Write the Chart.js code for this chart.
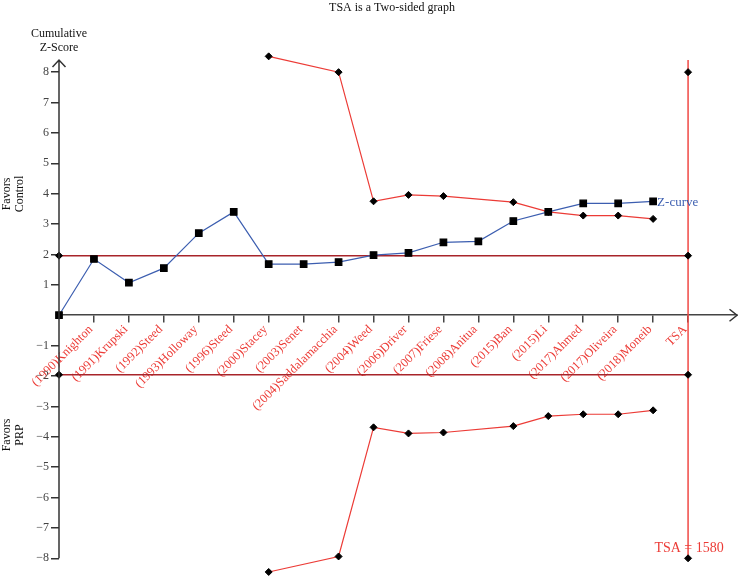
<!DOCTYPE html>
<html>
<head>
<meta charset="utf-8">
<title>TSA is a Two-sided graph</title>
<script src="https://cdn.jsdelivr.net/npm/chart.js@4.4.1/dist/chart.umd.min.js"></script>
<style>
    html, body { margin: 0; padding: 0; background: #fff; }
</style>
</head>
<body>
<canvas id="tsaChart" width="740" height="576"></canvas>
<script>
// studies in order of publication, TSA is the last slot on the x axis
const studyLabels = [
    '(1990)Knighton', '(1991)Krupski', '(1992)Steed', '(1993)Holloway', '(1996)Steed',
    '(2000)Stacey', '(2003)Senet', '(2004)Saddalamacchia', '(2004)Weed', '(2006)Driver',
    '(2007)Friese', '(2008)Anitua', '(2015)Ban', '(2015)Li', '(2017)Ahmed',
    '(2017)Oliveira', '(2018)Moneib', 'TSA'
];

// cumulative z-score, index 0 is the origin
const zCurve = [0, 1.85, 1.07, 1.55, 2.70, 3.40, 1.68, 1.68, 1.75, 1.98, 2.05, 2.40, 2.43, 3.10, 3.40, 3.68, 3.68, 3.75];

// monitoring boundaries (only where computed)
const boundaryIdx = [6, 8, 9, 10, 11, 13, 14, 15, 16, 17];
const upperBoundary = [8.52, 8.0, 3.75, 3.96, 3.92, 3.72, 3.40, 3.28, 3.28, 3.17];
const lowerBoundary = [-8.45, -7.94, -3.69, -3.89, -3.86, -3.65, -3.32, -3.26, -3.26, -3.13];

const conventionalZ = 1.96;
const tsaIdx = 18;
const tsaSize = 1580;
const tsaLine = [8.4, 8, -8];
const yTickValues = [-8, -7, -6, -5, -4, -3, -2, -1, 1, 2, 3, 4, 5, 6, 7, 8];

const serif = "'Liberation Serif', 'Times New Roman', serif";
const red = '#ec3b36';
const darkRed = '#a8242a';
const blue = '#3c5eb0';

const annotations = {
    id: 'annotations',
    afterDraw(chart) {
        const c = chart.ctx;
        const area = chart.chartArea;
        const xs = chart.scales.x;
        const ys = chart.scales.y;
        const x0 = xs.getPixelForValue(0);
        const y0 = ys.getPixelForValue(0);

        c.save();
        // y axis line stops at -8, arrow heads on both axes
        c.strokeStyle = '#333';
        c.lineWidth = 1.5;
        c.beginPath();
        c.moveTo(x0, ys.getPixelForValue(-8));
        c.lineTo(x0, area.top);
        c.moveTo(x0 - 6.5, area.top + 7);
        c.lineTo(x0, area.top);
        c.lineTo(x0 + 6.5, area.top + 7);
        c.moveTo(area.right - 7.5, y0 - 6);
        c.lineTo(area.right, y0);
        c.lineTo(area.right - 7.5, y0 + 6);
        c.stroke();

        c.fillStyle = '#111';
        c.textAlign = 'center';
        c.textBaseline = 'middle';
        c.font = '12px ' + serif;
        c.fillText('TSA is a Two-sided graph', 392, 8);
        c.fillText('Cumulative', x0, 34);
        c.fillText('Z-Score', x0, 48);

        // side captions
        [['Favors', 'Control', 194], ['Favors', 'PRP', 435]].forEach(([a, b, cy]) => {
            c.save();
            c.translate(13, cy);
            c.rotate(-Math.PI / 2);
            c.fillText(a, 0, -6);
            c.fillText(b, 0, 7);
            c.restore();
        });

        c.font = '13px ' + serif;
        c.textAlign = 'left';
        c.fillStyle = blue;
        const last = zCurve.length - 1;
        c.fillText('Z-curve', xs.getPixelForValue(last) + 4, ys.getPixelForValue(zCurve[last]) + 1);

        c.font = '14px ' + serif;
        c.textAlign = 'center';
        c.fillStyle = red;
        c.fillText('TSA = ' + tsaSize, xs.getPixelForValue(tsaIdx) + 1, ys.getPixelForValue(-8) - 10);
        c.restore();
    }
};

const diamond = { pointStyle: 'rectRot', pointRadius: 3.5, pointBackgroundColor: '#000', pointBorderColor: '#000', pointBorderWidth: 1 };

// keep label overflow from shrinking the plot area
function noPadding(s) {
    s.paddingTop = 0;
    s.paddingBottom = 0;
    s.paddingLeft = 0;
    s.paddingRight = 0;
}

new Chart(document.getElementById('tsaChart'), {
    type: 'scatter',
    data: {
        datasets: [
            {
                label: 'Z-curve',
                data: zCurve.map((v, i) => ({ x: i, y: v })),
                showLine: true,
                borderColor: blue,
                borderWidth: 1.2,
                pointStyle: 'rect',
                pointRadius: 4.6,
                pointBackgroundColor: '#000',
                pointBorderColor: '#000',
                clip: false
            },
            {
                label: 'Upper boundary',
                data: boundaryIdx.map((x, i) => ({ x: x, y: upperBoundary[i] })),
                showLine: true,
                borderColor: red,
                borderWidth: 1.2,
                ...diamond,
                clip: false
            },
            {
                label: 'Lower boundary',
                data: boundaryIdx.map((x, i) => ({ x: x, y: lowerBoundary[i] })),
                showLine: true,
                borderColor: red,
                borderWidth: 1.2,
                ...diamond,
                clip: false
            },
            {
                label: 'Z = 1.96',
                data: [{ x: 0, y: conventionalZ }, { x: tsaIdx, y: conventionalZ }],
                showLine: true,
                borderColor: darkRed,
                borderWidth: 1.5,
                ...diamond,
                clip: false
            },
            {
                label: 'Z = -1.96',
                data: [{ x: 0, y: -conventionalZ }, { x: tsaIdx, y: -conventionalZ }],
                showLine: true,
                borderColor: darkRed,
                borderWidth: 1.5,
                ...diamond,
                clip: false
            },
            {
                label: 'TSA',
                data: tsaLine.map(v => ({ x: tsaIdx, y: v })),
                showLine: true,
                borderColor: '#f04a45',
                borderWidth: 1.5,
                ...diamond,
                pointRadius: [0, 3.5, 3.5],
                clip: false
            }
        ]
    },
    options: {
        responsive: false,
        animation: false,
        events: [],
        layout: { autoPadding: false, padding: { top: 60, right: 3, bottom: 1, left: 0 } },
        plugins: {
            legend: { display: false },
            tooltip: { enabled: false }
        },
        scales: {
            x: {
                type: 'linear',
                min: 0,
                max: 19.4,
                position: { y: 0 },
                afterFit: noPadding,
                afterBuildTicks: s => { s.ticks = studyLabels.map((_, i) => ({ value: i + 1 })); },
                ticks: {
                    autoSkip: false,
                    minRotation: 45,
                    maxRotation: 45,
                    padding: 0,
                    labelOffset: -3,
                    color: red,
                    font: { family: serif, size: 12.5 },
                    callback: v => studyLabels[v - 1]
                },
                grid: { drawOnChartArea: false, tickLength: 7, color: '#444', lineWidth: 1.5 },
                border: { color: '#444', width: 1.5 }
            },
            y: {
                type: 'linear',
                min: -8.55,
                max: 8.4,
                position: 'left',
                afterFit: s => { s.width = 59; noPadding(s); },
                afterBuildTicks: s => { s.ticks = yTickValues.map(v => ({ value: v })); },
                ticks: {
                    padding: 2,
                    color: '#444',
                    font: { family: serif, size: 12 },
                    callback: v => v < 0 ? '\u2212' + (-v) : String(v)
                },
                grid: { drawOnChartArea: false, tickLength: 8, color: '#333', lineWidth: 1.5 },
                border: { display: false }
            }
        }
    },
    plugins: [annotations]
});
</script>
</body>
</html>
